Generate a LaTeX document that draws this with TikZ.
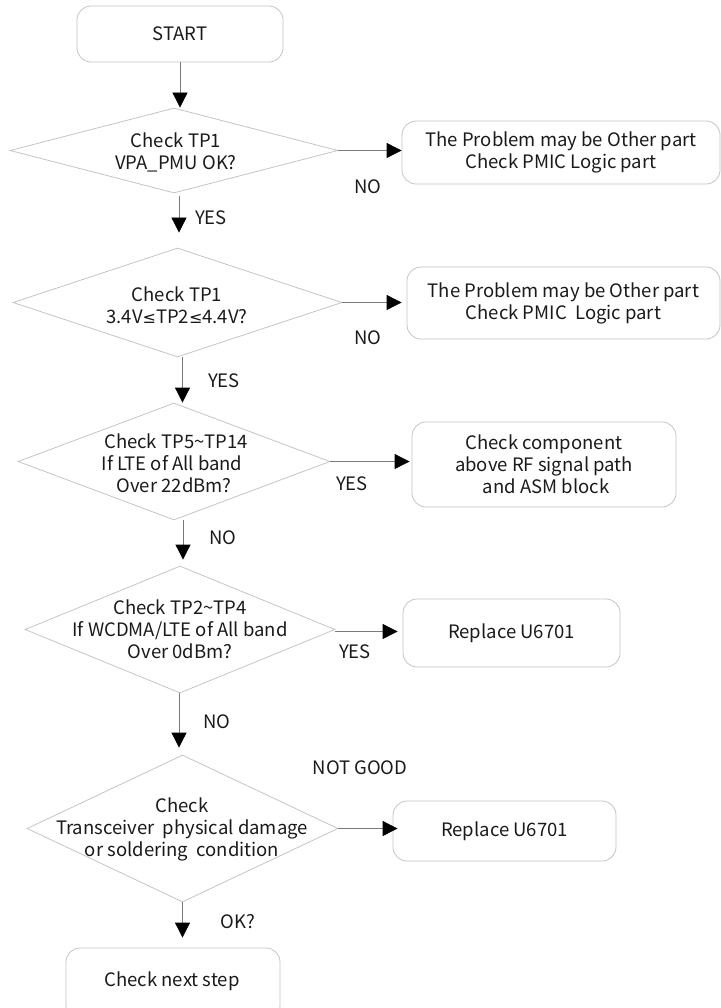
\documentclass[tikz,border=0pt]{standalone}
\usepackage{fontspec}
\setmainfont{Noto Sans CJK KR}
\newfontfamily\symf{DejaVu Sans}
\usetikzlibrary{shapes.geometric,arrows.meta}
\definecolor{edgegray}{HTML}{C4C4C4}
\definecolor{linegray}{HTML}{7A7A7A}
\definecolor{ink}{HTML}{1A1A1A}
\newcommand\fs{\fontsize{18.5}{22}\selectfont}
\newcommand\lesym{{\symf\fontsize{16}{22}\selectfont ≤}}
\tikzset{
  box/.style={draw=edgegray, line width=0.8pt, rounded corners=14pt, align=center, font=\fs, text=ink, inner sep=0pt},
  dia/.style={draw=edgegray, line width=0.8pt, diamond, inner sep=0pt},
  txt/.style={align=center, font=\fs, text=ink, inner sep=0pt},
  lbl/.style={font=\fs, text=ink, inner sep=0pt},
  flow/.style={draw=linegray, line width=0.8pt, -{Triangle[length=15pt,width=15pt,color=black]}},
}
\begin{document}
\begin{tikzpicture}[x=1pt,y=-1pt]
\useasboundingbox (0,0) rectangle (720,1008);
% terminal / process boxes
\node[box, minimum width=206pt, minimum height=56pt] (start) at (180,34) {START};
\node[box, minimum width=318pt, minimum height=63pt] (b1) at (561,152.5) {The Problem may be Other part\\Check PMIC Logic part};
\node[box, minimum width=313pt, minimum height=72pt] (b2) at (563.5,303) {The Problem may be Other part\\Check PMIC\ \ Logic part};
\node[box, minimum width=264pt, minimum height=85pt] (b3) at (544,464.5) {Check component\\above RF signal path\\\ and ASM block};
\node[box, minimum width=217pt, minimum height=68pt] (b4) at (511.5,633) {Replace U6701};
\node[box, minimum width=223pt, minimum height=60pt] (b5) at (504.5,831) {Replace U6701};
\node[box, minimum width=214pt, minimum height=72pt] (b6) at (173,984) {};
\node[txt] (b6t) at (172,981) {Check next step};
% decisions
\node[dia, minimum width=328pt, minimum height=85pt] (d1) at (174,150.5) {};
\node[txt] (d1t) at (176,152.5) {Check TP1\\VPA\_PMU OK?};
\node[dia, minimum width=329pt, minimum height=109pt] (d2) at (177.5,302.5) {};
\node[txt] (d2t) at (177,305) {Check TP1\\3.4V\lesym TP2\lesym 4.4V?};
\node[dia, minimum width=312pt, minimum height=117pt] (d3) at (174,461.5) {};
\node[txt] (d3t) at (172,463) {\ \ Check TP5\textasciitilde TP14\\If LTE of All band\\\ Over 22dBm?};
\node[dia, minimum width=310pt, minimum height=127pt] (d4) at (180,629.5) {};
\node[txt] (d4t) at (180,629.5) {Check TP2\textasciitilde TP4\\If WCDMA/LTE of All band\\Over 0dBm?};
\node[dia, minimum width=311pt, minimum height=147pt] (d5) at (182.5,828.5) {};
\node[txt] (d5t) at (182,829.5) {Check\\Transceiver\ \ physical damage\\or soldering\ \ condition};
% connectors
\draw[flow] (start.south) -- (start.south |- d1.north);
\draw[flow] (d1.east) -- (d1.east -| b1.west);
\draw[flow, shorten <=3pt, shorten >=15pt] ([xshift=5pt]d1.south) -- ([xshift=5pt]d1.south |- d2.north);
\draw[flow, shorten >=5pt] (d2.east) -- (d2.east -| b2.west);
\draw[flow] ([xshift=5pt]d2.south) -- ([xshift=5pt]d2.south |- d3.north);
\draw[flow, shorten >=2pt] (d3.east) -- (d3.east -| b3.west);
\draw[flow, shorten >=6pt] ([xshift=9pt]d3.south) -- ([xshift=9pt]d3.south |- d4.north);
\draw[flow, shorten >=5pt] ([yshift=-2pt]d4.east) -- ([yshift=-2pt]d4.east -| b4.west);
\draw[flow, shorten >=7pt] ([xshift=-1pt]d4.south) -- ([xshift=-1pt]d4.south |- d5.north);
\draw[flow, shorten >=-5pt] (d5.east) -- (d5.east -| b5.west);
\draw[flow, shorten >=10pt] (d5.south) -- (d5.south |- b6.north);
% labels
\node[lbl] (l1) at (368,187) {NO};
\node[lbl] (l2) at (211,218) {YES};
\node[lbl] (l3) at (368,338) {NO};
\node[lbl] (l4) at (224,381) {YES};
\node[lbl] (l5) at (352,484) {YES};
\node[lbl] (l6) at (223,538) {NO};
\node[lbl] (l7) at (355,652) {YES};
\node[lbl] (l8) at (217,722) {NO};
\node[lbl] (l9) at (360,768) {NOT GOOD};
\node[lbl] (l10) at (238,922) {OK?};
\end{tikzpicture}
\end{document}
